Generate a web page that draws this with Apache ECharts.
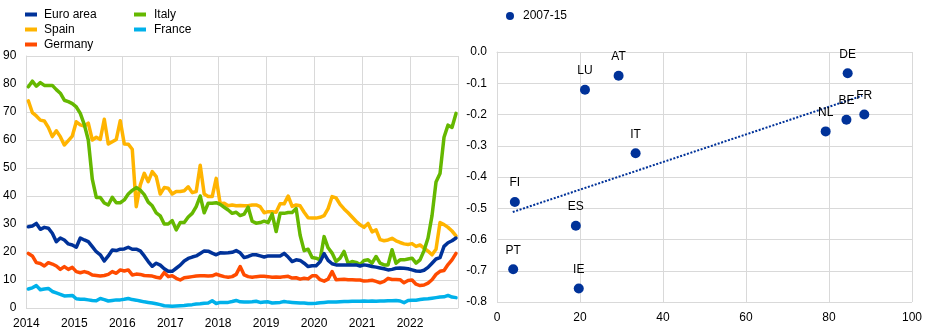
<!DOCTYPE html>
<html>
<head>
<meta charset="utf-8">
<script src="https://cdn.jsdelivr.net/npm/echarts@6/dist/echarts.min.js"></script>
<style>
  html, body { margin: 0; padding: 0; background: #fff; }
  #chart { width: 937px; height: 333px; }
</style>
</head>
<body>
<div id="chart"></div>
<script>
// Monthly series, January 2014 to December 2022 (108 months)
const yearTicks = ['2014', '2015', '2016', '2017', '2018', '2019', '2020', '2021', '2022'];

const euroArea = [
  29, 29.3, 30.2, 28.1, 28.8, 28.5, 26.7, 23.7, 25, 24.3,
  22.9, 22.5, 21.7, 25, 24.3, 23.7, 21.9, 20.1, 19, 16.8,
  18.6, 20.7, 20.5, 21, 21.1, 21.7, 21, 21, 20.4, 18.6,
  16.6, 14.9, 16, 15.3, 14, 13.1, 13.1, 14.2, 15.3, 16.8,
  17.7, 18.2, 18.6, 19.5, 20.4, 20.3, 19.6, 19, 19.7, 19.6,
  19.7, 19.9, 20.5, 19.7, 18, 18.4, 19, 19, 18.6, 18.2,
  18.6, 18.6, 18.6, 18.6, 19.5, 18.2, 16.6, 17.2, 17, 16,
  14.8, 15.1, 15.1, 16.5, 19.4, 17, 15.8, 15.4, 15.4, 15.4,
  15.4, 15.4, 15.4, 15, 15.4, 15.2, 14.8, 14.6, 14.3, 14,
  13.6, 13.8, 14.2, 14.3, 14.2, 14, 13.6, 13.2, 13.1, 13.5,
  14.5, 16, 17.5, 18, 22, 23.3, 24, 25
];

const spain = [
  74, 69.8, 68.6, 67.1, 66.8, 64.5, 61.2, 63.3, 61.2, 58.2,
  59.8, 61.4, 66.5, 65.4, 65, 66, 60, 61, 60.2, 67.4,
  58.6, 59.4, 60.2, 66.9, 58.6, 58.5, 56.7, 36.2, 43.9, 48.1,
  45.1, 48.7, 46.9, 40.7, 43, 42.8, 40.7, 41.6, 41.6, 41.9,
  43.3, 41.2, 41.6, 51, 40.7, 39.8, 39.8, 46.3, 37.2, 37.4,
  36.5, 36.8, 36.5, 36.6, 36.5, 36.5, 36.8, 36.8, 36.2, 34,
  34.4, 34.4, 34.2, 37.2, 37.2, 40, 36.3, 36.8, 36.5, 34.2,
  32.2, 32.1, 32.1, 32.4, 33, 35.5, 39.8, 39.3, 37, 35.4,
  34, 32.5, 31, 29.7, 28.8, 30.2, 27.2, 27.9, 24.4, 24,
  24.3, 24.9, 24, 23.4, 22.9, 22.7, 23, 22, 22.5, 21.4,
  20.3, 19, 21, 30.5, 29.8, 28.8, 27.5, 25.8
];

const germany = [
  19.5, 18.6, 16.2, 15.9, 15, 16.2, 15.7, 15, 13.8, 14.8,
  13.8, 14.5, 13, 12.6, 13, 12.6, 11.8, 11.6, 11.4, 11.6,
  12, 13, 12.4, 13.6, 13.2, 13.6, 11.8, 12.1, 12, 11.6,
  11.5, 11.4, 11, 10.7, 12.7, 11.2, 11.5, 10.6, 10, 10.8,
  11, 11.2, 11.4, 11.5, 11.5, 11.4, 11.5, 12.1, 11.6, 11.2,
  11, 11.2, 12, 14.8, 11.8, 11.2, 11, 11.2, 11.3, 11.3,
  11.2, 11, 11.1, 11, 11.2, 11.3, 10.7, 10.8, 10.3, 10.6,
  10.4, 11.5, 11.5, 10.1, 9.6, 10.3, 13, 10.1, 10.2, 10.3,
  10.1, 10.1, 10, 10, 9.6, 9.7, 9.9, 9.5, 9, 9.5,
  10.6, 10.2, 10.2, 10.1, 9, 9.8, 10, 8.5, 8, 8.2,
  8.9, 10.1, 12, 13.1, 13.4, 15.5, 17.2, 19.5
];

const italy = [
  79, 81, 79.2, 80.5, 79.5, 79.5, 79.5, 78, 76.7, 74.2,
  73.7, 73, 71.8, 69.5, 65.5, 60, 46, 39.5, 39.5, 37.5,
  36.8, 39.5, 37.6, 37.6, 38.6, 40.7, 42, 43, 42.1, 40.5,
  37.8, 36.5, 34, 32.9, 30, 30, 31.2, 27.9, 30.5, 30.5,
  32.5, 33.8, 36.2, 40, 34, 37.4, 37.4, 37.6, 37, 36,
  35, 33.8, 34.2, 33, 33.5, 36, 31, 30.3, 30.5, 31,
  30.5, 33.6, 27.3, 33.8, 33.8, 34.1, 34.1, 35.5, 26, 20.5,
  21, 18, 17.8, 17.2, 25.5, 21.5, 19.6, 16.6, 17.8, 20.2,
  16, 16.6, 16.3, 15.5, 17, 17.2, 16, 18.4, 16, 15.4,
  15.4, 20.8, 16, 17.2, 17.2, 17.5, 17.8, 16, 17.2, 20.5,
  25, 33, 45, 48, 61, 65.3, 64.5, 69.5
];

const france = [
  6.8, 7.2, 8, 6.5, 6.8, 7, 5.9, 5.4, 4.9, 4.3,
  4.4, 4.5, 3.3, 3.1, 3.1, 2.9, 2.7, 2.6, 3.4, 3,
  2.5, 2.7, 2.9, 2.9, 3.1, 3.4, 3, 2.8, 2.5, 2.2,
  2.0, 1.8, 1.5, 1.2, 0.8, 0.7, 0.6, 0.7, 0.8, 0.9,
  1.1, 1.2, 1.4, 1.5, 1.7, 1.8, 2.6, 1.6, 2, 2,
  2, 2.3, 2.7, 2.2, 2.1, 2.1, 2.2, 2.4, 2, 2.1,
  2.2, 1.8, 1.9, 2.0, 2.3, 2.1, 2.0, 1.9, 1.8, 1.8,
  1.6, 1.6, 1.7, 1.9, 2.0, 2.1, 2.1, 2.1, 2.2, 2.3,
  2.3, 2.4, 2.4, 2.4, 2.5, 2.4, 2.5, 2.4, 2.5, 2.5,
  2.6, 2.6, 2.7, 2.5, 1.9, 2.7, 2.8, 2.8, 3.0, 3.2,
  3.3, 3.5, 3.7, 3.9, 4.0, 4.5, 3.9, 3.7
];

// Cross-country scatter, 2007-15
const countries = ['AT', 'LU', 'DE', 'FR', 'BE', 'NL', 'IT', 'FI', 'ES', 'PT', 'IE'];
const scatterX = [29.3, 21.2, 84.5, 88.5, 84.2, 79.2, 33.4, 4.3, 19.0, 3.9, 19.7];
const scatterY = [-0.076, -0.121, -0.068, -0.200, -0.217, -0.254, -0.324, -0.480, -0.556, -0.695, -0.757];
// Fitted line end points
const trendX = [3.8, 88.0];
const trendY = [-0.512, -0.140];

const FONT = 'Arial, "Liberation Sans", sans-serif';
const TEXT = '#000000';
const GRID = '#d9d9d9';

const COLORS = {
  euro: '#003299',
  spain: '#ffb400',
  germany: '#ff4b00',
  italy: '#65b800',
  france: '#00b1ea'
};

// x position: middle of each month, counted in months from January 2014
const toPoints = arr => arr.map((v, i) => [i + 0.5, v]);

function lineSeries(name, data, color) {
  return {
    name: name,
    type: 'line',
    xAxisIndex: 0,
    yAxisIndex: 0,
    data: toPoints(data),
    showSymbol: false,
    symbol: 'none',
    lineStyle: { color: color, width: 3.5, join: 'round', cap: 'round' },
    itemStyle: { color: color },
    emphasis: { disabled: true },
    animation: false
  };
}

const chart = echarts.init(document.getElementById('chart'), null, { renderer: 'canvas' });

const legendText = pad => ({ fontFamily: FONT, fontSize: 12, color: TEXT, lineHeight: 15, padding: [0, 0, 0, pad] });

const option = {
  animation: false,
  textStyle: { fontFamily: FONT, color: TEXT },
  legend: [
    {
      data: ['Euro area', 'Spain', 'Germany'],
      orient: 'vertical',
      left: 20,
      top: 2,
      itemWidth: 12,
      itemHeight: 4,
      itemGap: 0,
      icon: 'rect',
      selectedMode: false,
      textStyle: legendText(2)
    },
    {
      data: ['Italy', 'France'],
      orient: 'vertical',
      left: 129,
      top: 2,
      itemWidth: 12,
      itemHeight: 4,
      itemGap: 0,
      icon: 'rect',
      selectedMode: false,
      textStyle: legendText(3)
    },
    {
      data: ['2007-15'],
      left: 501,
      top: 5,
      itemWidth: 8,
      itemHeight: 8,
      icon: 'circle',
      selectedMode: false,
      textStyle: { fontFamily: FONT, fontSize: 12, color: TEXT, padding: [0, 0, 0, 4] }
    }
  ],
  grid: [
    { left: 26, top: 56, width: 432, height: 252, containLabel: false },
    { left: 497, top: 52, width: 415, height: 250, containLabel: false }
  ],
  xAxis: [
    {
      gridIndex: 0,
      type: 'value',
      min: 0,
      max: 108,
      interval: 12,
      axisLine: { show: true, lineStyle: { color: GRID, width: 1 } },
      axisTick: { show: false },
      splitLine: { show: true, lineStyle: { color: GRID, width: 1 } },
      axisLabel: {
        fontFamily: FONT,
        fontSize: 12,
        color: TEXT,
        margin: 10,
        showMaxLabel: false,
        formatter: v => {
          const idx = Math.round(v / 12);
          return idx < yearTicks.length ? yearTicks[idx] : '';
        }
      }
    },
    {
      gridIndex: 1,
      type: 'value',
      min: 0,
      max: 100,
      interval: 20,
      axisLine: { show: true, lineStyle: { color: GRID, width: 1 } },
      axisTick: { show: false },
      splitLine: { show: true, lineStyle: { color: GRID, width: 1 } },
      axisLabel: { fontFamily: FONT, fontSize: 12, color: TEXT, margin: 10 }
    }
  ],
  yAxis: [
    {
      gridIndex: 0,
      type: 'value',
      min: 0,
      max: 90,
      interval: 10,
      axisLine: { show: true, lineStyle: { color: GRID, width: 1 } },
      axisTick: { show: false },
      splitLine: { show: true, lineStyle: { color: GRID, width: 1 } },
      axisLabel: { fontFamily: FONT, fontSize: 12, color: TEXT, margin: 10 }
    },
    {
      gridIndex: 1,
      type: 'value',
      min: -0.8,
      max: 0,
      interval: 0.1,
      axisLine: { show: true, lineStyle: { color: GRID, width: 1 } },
      axisTick: { show: false },
      splitLine: { show: true, lineStyle: { color: GRID, width: 1 } },
      axisLabel: {
        fontFamily: FONT,
        fontSize: 12,
        color: TEXT,
        margin: 10,
        formatter: v => (Math.abs(v) < 1e-9 ? '0.0' : v.toFixed(1))
      }
    }
  ],
  series: [
    lineSeries('France', france, COLORS.france),
    lineSeries('Germany', germany, COLORS.germany),
    lineSeries('Spain', spain, COLORS.spain),
    lineSeries('Italy', italy, COLORS.italy),
    lineSeries('Euro area', euroArea, COLORS.euro),
    {
      name: 'trend',
      type: 'line',
      xAxisIndex: 1,
      yAxisIndex: 1,
      data: trendX.map((x, i) => [x, trendY[i]]),
      showSymbol: false,
      symbol: 'none',
      lineStyle: { color: COLORS.euro, width: 2, type: [2, 1.6] },
      emphasis: { disabled: true },
      silent: true,
      z: 1
    },
    {
      name: '2007-15',
      type: 'scatter',
      xAxisIndex: 1,
      yAxisIndex: 1,
      data: scatterX.map((x, i) => [x, scatterY[i]]),
      symbol: 'circle',
      symbolSize: 10,
      itemStyle: { color: COLORS.euro, opacity: 1 },
      label: {
        show: true,
        position: 'top',
        distance: 8,
        fontFamily: FONT,
        fontSize: 12,
        color: TEXT,
        formatter: p => countries[p.dataIndex]
      },
      emphasis: { disabled: true },
      z: 3
    }
  ]
};

chart.setOption(option);
</script>
</body>
</html>
